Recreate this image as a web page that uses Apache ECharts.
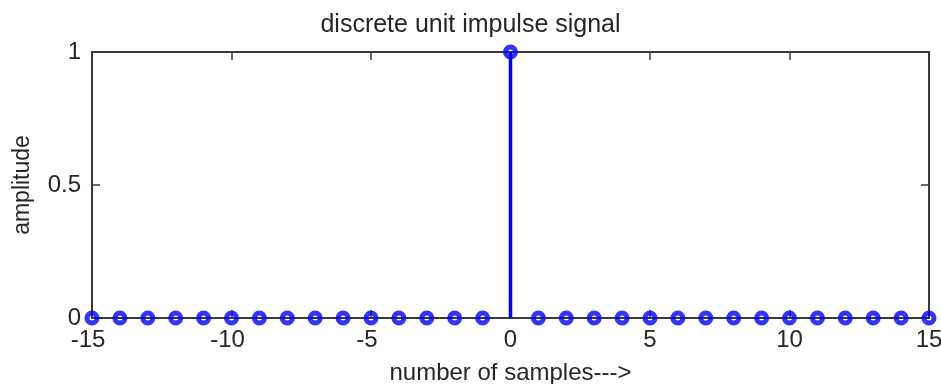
<!DOCTYPE html>
<html>
<head>
<meta charset="utf-8">
<title>discrete unit impulse signal</title>
<script src="https://cdn.jsdelivr.net/npm/echarts@6/dist/echarts.min.js"></script>
<style>
  html, body { margin: 0; padding: 0; background: #ffffff; }
  #chart { width: 941px; height: 384px; }
</style>
</head>
<body>
<div id="chart"></div>
<script>
// Sample indices n and the unit impulse value at each index
const sampleIndex = [-15, -14, -13, -12, -11, -10, -9, -8, -7, -6, -5, -4, -3, -2, -1,
                      0, 1, 2, 3, 4, 5, 6, 7, 8, 9, 10, 11, 12, 13, 14, 15];
const amplitude = [0, 0, 0, 0, 0, 0, 0, 0, 0, 0, 0, 0, 0, 0, 0,
                   1, 0, 0, 0, 0, 0, 0, 0, 0, 0, 0, 0, 0, 0, 0, 0];
const xTicks = [-15, -10, -5, 0, 5, 10, 15];
const yTicks = [0, 0.5, 1];

const titleText = 'discrete unit impulse signal';
const xName = 'number of samples--->';
const yName = 'amplitude';

const FONT = "'Liberation Sans', Arial, Helvetica, sans-serif";
const TEXT = '#262626';
const AXIS = '#3a3a3a';
const STEM = '#0000ff';

const points = sampleIndex.map((n, i) => [n, amplitude[i]]);

const chart = echarts.init(document.getElementById('chart'), null, { renderer: 'canvas' });

const axisCommon = {
  type: 'value',
  axisLine: { show: true, onZero: false, lineStyle: { color: AXIS, width: 2 } },
  axisTick: { show: true, inside: true, length: 8, lineStyle: { color: AXIS, width: 1.5 } },
  splitLine: { show: false }
};

chart.setOption({
  animation: false,
  backgroundColor: '#ffffff',
  title: {
    text: titleText,
    left: 'center',
    top: 8,
    textStyle: { fontFamily: FONT, fontSize: 25, fontWeight: 'normal', color: TEXT }
  },
  grid: { left: 92, right: 12, top: 52, bottom: 66, containLabel: false, outerBoundsMode: 'none' },
  xAxis: [
    Object.assign({}, axisCommon, {
      position: 'bottom',
      min: xTicks[0], max: xTicks[xTicks.length - 1], interval: 5,
      name: xName,
      nameLocation: 'middle',
      nameGap: 43,
      nameTextStyle: { fontFamily: FONT, fontSize: 24, color: TEXT },
      axisLabel: {
        margin: 10,
        fontFamily: FONT, fontSize: 24, color: TEXT,
        // keep the digits centred under the tick, minus sign hanging left
        formatter: v => (v < 0 ? '{neg|' + v + '}' : '{pos|' + v + '}'),
        rich: {
          neg: { fontFamily: FONT, fontSize: 24, color: TEXT, padding: [0, 8, 0, 0] },
          pos: { fontFamily: FONT, fontSize: 24, color: TEXT }
        }
      }
    }),
    Object.assign({}, axisCommon, {
      position: 'top',
      min: xTicks[0], max: xTicks[xTicks.length - 1], interval: 5,
      axisLabel: { show: false }
    })
  ],
  yAxis: [
    Object.assign({}, axisCommon, {
      position: 'left',
      min: yTicks[0], max: yTicks[yTicks.length - 1], interval: 0.5,
      name: yName,
      nameLocation: 'middle',
      nameGap: 58,
      nameRotate: 90,
      nameTextStyle: { fontFamily: FONT, fontSize: 23, color: TEXT },
      axisLabel: { margin: 11, fontFamily: FONT, fontSize: 24, color: TEXT }
    }),
    Object.assign({}, axisCommon, {
      position: 'right',
      min: yTicks[0], max: yTicks[yTicks.length - 1], interval: 0.5,
      axisLabel: { show: false }
    })
  ],
  series: [
    {
      // stems from the baseline up to each sample value
      type: 'custom',
      xAxisIndex: 0,
      yAxisIndex: 0,
      clip: false,
      data: points,
      renderItem: function (params, api) {
        const top = api.coord([api.value(0), api.value(1)]);
        const base = api.coord([api.value(0), 0]);
        return {
          type: 'line',
          shape: { x1: base[0], y1: base[1], x2: top[0], y2: top[1] },
          style: { stroke: STEM, lineWidth: 3.5 }
        };
      },
      z: 3
    },
    {
      // hollow circle markers at each sample
      type: 'scatter',
      xAxisIndex: 0,
      yAxisIndex: 0,
      clip: false,
      data: points,
      symbol: 'circle',
      symbolSize: 10,
      itemStyle: { color: 'rgba(0,0,0,0)', borderColor: STEM, borderWidth: 5 },
      z: 4
    }
  ]
});
</script>
</body>
</html>
